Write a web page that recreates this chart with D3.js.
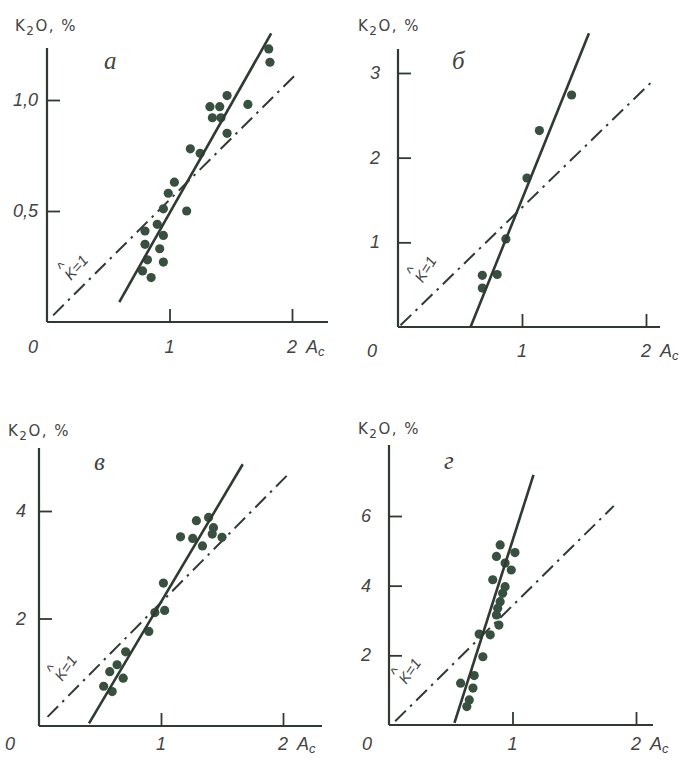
<!DOCTYPE html>
<html>
<head>
<meta charset="utf-8">
<script src="https://cdn.jsdelivr.net/npm/d3@7"></script>
<style>
    body { margin: 0; background: #fff; }
    svg { display: block; }
    .tick-label { font-family: "Liberation Sans", sans-serif; font-style: italic; font-size: 18px; fill: #444; }
    .axis-title { font-family: "DejaVu Sans", sans-serif; font-size: 15px; letter-spacing: 1.5px; fill: #444; }
    .panel-letter { font-family: "Liberation Serif", serif; font-style: italic; font-size: 25px; fill: #444; }
    .k-label { font-family: "Liberation Sans", sans-serif; font-style: italic; font-size: 15px; fill: #444; }
</style>
</head>
<body>
<svg id="chart" width="681" height="760"></svg>
<script>
// panel letters
var letters = ["а", "б", "в", "г"];

// x ticks (same for all panels)
var xTicks = [1, 2];

// y ticks per panel
var aYTicks = [0.5, 1.0];
var aYLabels = ["0,5", "1,0"];
var bYTicks = [1, 2, 3];
var bYLabels = ["1", "2", "3"];
var cYTicks = [2, 4];
var cYLabels = ["2", "4"];
var dYTicks = [2, 4, 6];
var dYLabels = ["2", "4", "6"];

// points (A_c, K2O %)
var aX = [1.81, 1.82, 1.64, 1.47, 1.41, 1.33, 1.35, 1.42, 1.47, 1.17, 1.25, 1.04, 0.99, 1.14, 0.95, 0.90, 0.80, 0.95, 0.80, 0.92, 0.82, 0.95, 0.78, 0.85];
var aY = [1.23, 1.17, 0.98, 1.02, 0.97, 0.97, 0.92, 0.92, 0.85, 0.78, 0.76, 0.63, 0.58, 0.50, 0.51, 0.44, 0.41, 0.39, 0.35, 0.33, 0.28, 0.27, 0.23, 0.20];
var bX = [1.40, 1.14, 1.04, 0.87, 0.68, 0.80, 0.68];
var bY = [2.74, 2.32, 1.76, 1.04, 0.61, 0.62, 0.46];
var cX = [1.39, 1.29, 1.43, 1.16, 1.26, 1.34, 1.42, 1.50, 1.02, 1.03, 0.95, 0.90, 0.71, 0.64, 0.58, 0.69, 0.53, 0.60];
var cY = [3.88, 3.82, 3.69, 3.52, 3.49, 3.35, 3.57, 3.51, 2.66, 2.15, 2.11, 1.76, 1.38, 1.14, 1.01, 0.89, 0.74, 0.64];
var dX = [0.90, 0.87, 1.02, 0.94, 0.99, 0.84, 0.94, 0.92, 0.90, 0.88, 0.87, 0.89, 0.73, 0.82, 0.76, 0.69, 0.58, 0.68, 0.65, 0.63];
var dY = [5.17, 4.84, 4.95, 4.65, 4.45, 4.17, 3.97, 3.78, 3.54, 3.35, 3.16, 2.87, 2.61, 2.59, 1.96, 1.42, 1.20, 1.06, 0.72, 0.53];

// regression lines (end points)
var aFitX = [0.59, 1.83], aFitY = [0.09, 1.30];
var bFitX = [0.585, 1.54], bFitY = [0.0, 3.47];
var cFitX = [0.41, 1.67], cFitY = [0.05, 4.87];
var dFitX = [0.53, 1.17], dFitY = [0.06, 7.18];

// K=1 lines (end points)
var aKX = [0.05, 2.04], aKY = [0.03, 1.12];
var bKX = [0.02, 2.07], bKY = [0.02, 2.93];
var cKX = [0.07, 2.05], cKY = [0.17, 4.70];
var dKX = [0.05, 1.82], dKY = [0.11, 6.29];

var ink = "#2f3a33";
var dotColor = "#38503f";

var panels = [
    { letter: letters[0], xs: aX, ys: aY, fitX: aFitX, fitY: aFitY, kX: aKX, kY: aKY,
      yTicks: aYTicks, yLabels: aYLabels, yRef: 1, x0: 47, x2: 292, y0: 322, yRefPx: 100,
      top: 48, right: 328, titleXY: [15, 31], letterXY: [104, 69], kXY: [80, 271], kRot: -48,
      yLabelX: 38, xLabelY: 353, zeroX: 33 },
    { letter: letters[1], xs: bX, ys: bY, fitX: bFitX, fitY: bFitY, kX: bKX, kY: bKY,
      yTicks: bYTicks, yLabels: bYLabels, yRef: 3, x0: 398, x2: 646, y0: 327, yRefPx: 73,
      top: 49, right: 660, titleXY: [358, 31], letterXY: [452, 69], kXY: [430, 272], kRot: -58,
      yLabelX: 380, xLabelY: 357, zeroX: 372 },
    { letter: letters[2], xs: cX, ys: cY, fitX: cFitX, fitY: cFitY, kX: cKX, kY: cKY,
      yTicks: cYTicks, yLabels: cYLabels, yRef: 4, x0: 39, x2: 283, y0: 726, yRefPx: 511,
      top: 448, right: 322, titleXY: [8, 436], letterXY: [94, 470], kXY: [70, 671], kRot: -55,
      yLabelX: 26, xLabelY: 750, zeroX: 10 },
    { letter: letters[3], xs: dX, ys: dY, fitX: dFitX, fitY: dFitY, kX: dKX, kY: dKY,
      yTicks: dYTicks, yLabels: dYLabels, yRef: 6, x0: 389, x2: 636, y0: 725, yRefPx: 516,
      top: 445, right: 653, titleXY: [358, 434], letterXY: [444, 469], kXY: [414, 674], kRot: -55,
      yLabelX: 371, xLabelY: 750, zeroX: 367 }
];

var svg = d3.select("#chart");

panels.forEach(function (p) {
    var x = d3.scaleLinear().domain([0, 2]).range([p.x0, p.x2]);
    var y = d3.scaleLinear().domain([0, p.yRef]).range([p.y0, p.yRefPx]);
    var g = svg.append("g");

    // axis lines
    g.append("line")
        .attr("x1", p.x0).attr("x2", p.x0)
        .attr("y1", p.top).attr("y2", p.y0)
        .attr("stroke", ink).attr("stroke-width", 2.2);
    g.append("line")
        .attr("x1", p.x0).attr("x2", p.right)
        .attr("y1", p.y0).attr("y2", p.y0)
        .attr("stroke", ink).attr("stroke-width", 2.2);

    // inward ticks
    var yAxis = g.append("g")
        .attr("transform", "translate(" + p.x0 + ",0)")
        .call(d3.axisRight(y).tickValues(p.yTicks).tickSize(13).tickFormat(""));
    var xAxis = g.append("g")
        .attr("transform", "translate(0," + p.y0 + ")")
        .call(d3.axisTop(x).tickValues(xTicks).tickSize(13).tickFormat(""));
    [yAxis, xAxis].forEach(function (ax) {
        ax.select(".domain").remove();
        ax.selectAll("line").attr("stroke", ink).attr("stroke-width", 1.8);
    });

    // tick labels
    g.selectAll(".ylab")
        .data(p.yTicks)
        .enter()
        .append("text")
        .attr("class", "tick-label")
        .attr("text-anchor", "end")
        .attr("x", p.yLabelX)
        .attr("y", d => y(d) + 6)
        .text((d, i) => p.yLabels[i]);
    g.append("text")
        .attr("class", "tick-label")
        .attr("text-anchor", "middle")
        .attr("x", p.zeroX).attr("y", p.xLabelY)
        .text("0");
    g.selectAll(".xlab")
        .data(xTicks)
        .enter()
        .append("text")
        .attr("class", "tick-label")
        .attr("text-anchor", "middle")
        .attr("x", d => x(d))
        .attr("y", p.xLabelY)
        .text(d => d);
    var ac = g.append("text")
        .attr("class", "tick-label")
        .attr("x", x(2) + 14).attr("y", p.xLabelY);
    ac.append("tspan").text("A");
    ac.append("tspan").attr("dy", 3).attr("font-size", 13).text("c");

    // axis title
    var t = g.append("text")
        .attr("class", "axis-title")
        .attr("x", p.titleXY[0]).attr("y", p.titleXY[1]);
    t.append("tspan").text("K");
    t.append("tspan").attr("dy", 4).attr("font-size", 12).text("2");
    t.append("tspan").attr("dy", -4).text("O, %");

    // panel letter
    g.append("text")
        .attr("class", "panel-letter")
        .attr("x", p.letterXY[0]).attr("y", p.letterXY[1])
        .text(p.letter);

    // K=1 line
    var kLine = d3.line().x(d => x(d[0])).y(d => y(d[1]));
    g.append("path")
        .attr("d", kLine(d3.zip(p.kX, p.kY)))
        .attr("fill", "none")
        .attr("stroke", ink)
        .attr("stroke-width", 2)
        .attr("stroke-dasharray", "15,6,2.5,6");

    var kl = g.append("text")
        .attr("class", "k-label")
        .attr("text-anchor", "middle")
        .attr("transform", "translate(" + p.kXY[0] + "," + p.kXY[1] + ") rotate(" + p.kRot + ")");
    kl.append("tspan").text("K=1");
    // hat over K
    kl.append("tspan").attr("x", -9).attr("dy", -11).attr("text-anchor", "middle").text("^");

    // points
    g.selectAll("circle")
        .data(d3.zip(p.xs, p.ys))
        .enter()
        .append("circle")
        .attr("cx", d => x(d[0]))
        .attr("cy", d => y(d[1]))
        .attr("r", 4.6)
        .attr("fill", dotColor);

    // fitted line
    g.append("path")
        .attr("d", kLine(d3.zip(p.fitX, p.fitY)))
        .attr("fill", "none")
        .attr("stroke", ink)
        .attr("stroke-width", 2.6);
});
</script>
</body>
</html>
